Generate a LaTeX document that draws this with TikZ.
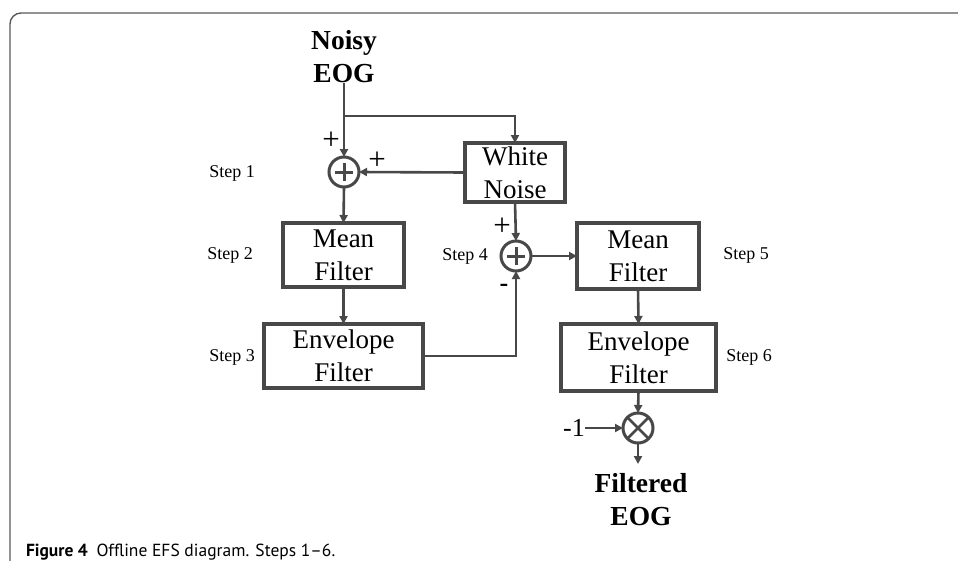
\documentclass[tikz,border=0pt]{standalone}
\usepackage{fontspec}
\setmainfont{Liberation Serif}
\newfontfamily\capfont{PT Sans}
\usetikzlibrary{arrows.meta,calc}
\definecolor{linec}{RGB}{72,72,72}
\definecolor{framec}{RGB}{90,90,90}
\tikzset{
  every node/.style={inner sep=0pt, outer sep=0pt},
  blk/.style={draw=linec, line width=3.2pt, align=center, font=\fontsize{27}{33}\selectfont},
  sumc/.style={draw=linec, circle, line width=3pt, minimum size=30pt},
  wire/.style={draw=linec, line width=2.6pt},
  arr/.style={wire, -{Triangle[length=8pt,width=8pt]}},
  steplbl/.style={font=\fontsize{18}{20}\selectfont},
  sgn/.style={font=\fontsize{31}{33}\selectfont},
  iolbl/.style={align=center, font=\fontsize{27.5}{33}\selectfont\bfseries},
}
\begin{document}
\begin{tikzpicture}[x=1pt,y=-1pt]
\useasboundingbox (0,0) rectangle (958,560);
\fill[white] (0,0) rectangle (958,560);
\begin{scope}
\clip (0,0) rectangle (958,560);
\draw[framec, line width=1.4pt, rounded corners=11pt] (10,620) -- (10,13) -- (1000,13);
\end{scope}

% nodes
\node[iolbl] (noisy) at (344,57) {Noisy\\EOG};
\node[blk, minimum width=100pt, minimum height=59pt] (wn) at (515,172.5) {White\\Noise};
\node[sumc] (c1) at (344,172) {};
\node[blk, minimum width=121pt, minimum height=64pt] (mf1) at (343.5,255) {Mean\\Filter};
\node[blk, minimum width=159pt, minimum height=64pt] (ef1) at (343.5,356) {Envelope\\Filter};
\node[sumc] (c2) at (516,256) {};
\node[blk, minimum width=122pt, minimum height=66pt] (mf2) at (638,256) {Mean\\Filter};
\node[blk, minimum width=155pt, minimum height=67pt] (ef2) at (638.5,357.5) {Envelope\\Filter};
\node[sumc] (c3) at (638,428) {};
\node[font=\fontsize{26}{28}\selectfont] (m1) at (574,428) {-1};
\node[iolbl] (filt) at (641,500) {Filtered\\EOG};
\coordinate (br) at (344,116);
\coordinate (out) at (638,464);

% symbols inside circles
\draw[linec, line width=3pt] ($(c1)+(-9,0)$) -- ($(c1)+(9,0)$) ($(c1)+(0,-9)$) -- ($(c1)+(0,9)$);
\draw[linec, line width=3pt] ($(c2)+(-9,0)$) -- ($(c2)+(9,0)$) ($(c2)+(0,-9)$) -- ($(c2)+(0,9)$);
\draw[linec, line width=2.6pt] ($(c3)+(-10.6,-10.6)$) -- ($(c3)+(10.6,10.6)$) ($(c3)+(-10.6,10.6)$) -- ($(c3)+(10.6,-10.6)$);

% connectors
\draw[arr] (noisy.south) -- (c1.north);
\draw[arr] (br) -| (wn.north);
\draw[arr] (wn.west) -- (c1.east);
\draw[arr] (c1.south) -- (mf1.north);
\draw[arr] (mf1.south) -- (ef1.north);
\draw[arr] (ef1.east) -| (c2.south);
\draw[arr] (wn.south) -- (c2.north);
\draw[arr] (c2.east) -- (mf2.west);
\draw[arr] (mf2.south) -- (ef2.north);
\draw[arr] (ef2.south) -- (c3.north);
\draw[arr] (m1.east) -- (c3.west);
\draw[arr] (c3.south) -- (out);

% signs
\node[sgn] (p1) at (331,141) {+};
\node[sgn] (p2) at (377,161) {+};
\node[sgn] (p3) at (502,227) {+};
\node[font=\fontsize{26}{28}\selectfont\bfseries] (mn) at (504,288) {-};

% step labels
\node[steplbl] (s1) at (232,173) {Step 1};
\node[steplbl] (s2) at (230,255) {Step 2};
\node[steplbl] (s3) at (232,357) {Step 3};
\node[steplbl] (s4) at (465,256) {Step 4};
\node[steplbl] (s5) at (746,255) {Step 5};
\node[steplbl] (s6) at (749,357) {Step 6};

% caption
\node[anchor=base west, font=\capfont\fontsize{17.5}{20}\selectfont] (cap) at (26,556) {\textbf{Figure 4}\hspace{0.5em}Offline EFS diagram. Steps 1–6.};
\end{tikzpicture}
\end{document}
